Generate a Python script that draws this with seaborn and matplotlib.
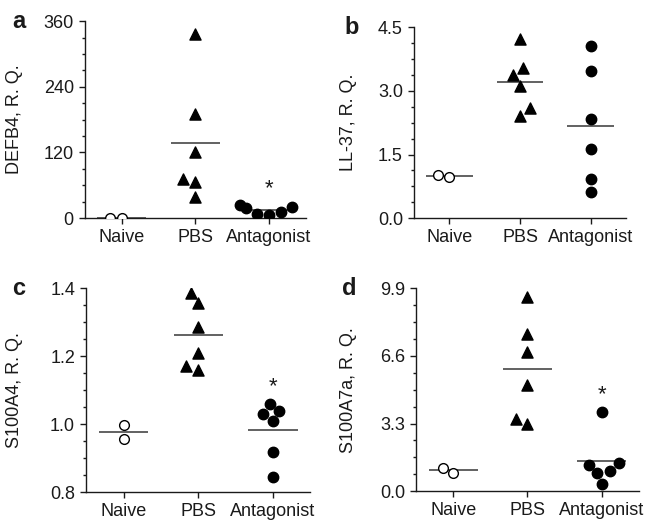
import numpy as np
import pandas as pd
import matplotlib
matplotlib.use('Agg')
import matplotlib.pyplot as plt
import seaborn as sns
from matplotlib.ticker import MultipleLocator, AutoMinorLocator, FormatStrFormatter

groups = ['Naive', 'PBS', 'Antagonist']

# relative quantities
naive_defb4 = [0.8, 1.2]
pbs_defb4 = [337, 191, 120, 71, 66, 39]
ant_defb4 = [12, 20, 8, 6, 24, 18]

naive_ll37 = [0.98, 1.03]
pbs_ll37 = [4.22, 3.55, 3.37, 3.12, 2.60, 2.42]
ant_ll37 = [4.07, 3.48, 2.33, 1.63, 0.93, 0.61]

naive_s100a4 = [0.958, 0.999]
pbs_s100a4 = [1.387, 1.356, 1.287, 1.209, 1.161, 1.171]
ant_s100a4 = [1.039, 1.061, 1.029, 1.009, 0.918, 0.845]

naive_s100a7a = [0.90, 1.14]
pbs_s100a7a = [9.45, 7.69, 6.79, 5.16, 3.26, 3.53]
ant_s100a7a = [3.88, 1.35, 1.30, 0.98, 0.90, 0.36]

panel_letters = ['a', 'b', 'c', 'd']
ylabels = ['DEFB4, R. Q.', 'LL-37, R. Q.', 'S100A4, R. Q.', 'S100A7a, R. Q.']
y_max = [360, 4.5, 1.4, 9.9]
y_min = [0, 0.0, 0.8, 0.0]
y_step = [120, 1.5, 0.2, 3.3]
y_fmt = ['%d', '%.1f', '%.1f', '%.1f']
significant = [True, False, True, True]

series = [
    (naive_defb4, pbs_defb4, ant_defb4),
    (naive_ll37, pbs_ll37, ant_ll37),
    (naive_s100a4, pbs_s100a4, ant_s100a4),
    (naive_s100a7a, pbs_s100a7a, ant_s100a7a),
]

sns.set_style('ticks')
plt.rcParams['font.family'] = ['Liberation Sans', 'DejaVu Sans']
plt.rcParams['font.size'] = 13
plt.rcParams['text.color'] = '#1a1a1a'
plt.rcParams['axes.labelcolor'] = '#1a1a1a'
plt.rcParams['xtick.color'] = '#1a1a1a'
plt.rcParams['ytick.color'] = '#1a1a1a'

fig = plt.figure(figsize=(6.48, 5.27), dpi=100)

# axes boxes in figure fraction (left, bottom, width, height)
boxes = [
    [0.131, 0.586, 0.341, 0.374],
    [0.639, 0.586, 0.327, 0.362],
    [0.133, 0.066, 0.346, 0.387],
    [0.642, 0.068, 0.344, 0.385],
]
label_x = [-0.281, -0.269, -0.281, -0.265]

markers = ['o', '^', 'o']
faces = ['white', 'black', 'black']
sizes = [7.0, 8.0, 7.5]

for k in range(4):
    ax = fig.add_axes(boxes[k])
    naive, pbs, ant = series[k]
    df = pd.DataFrame({
        'group': ['Naive'] * len(naive) + ['PBS'] * len(pbs) + ['Antagonist'] * len(ant),
        'value': list(naive) + list(pbs) + list(ant),
    })

    for i, g in enumerate(groups):
        sub = df[df['group'] == g]
        sns.swarmplot(data=sub, x='group', y='value', order=groups, ax=ax,
                      marker=markers[i], color=faces[i], edgecolor='black',
                      linewidth=1.0, size=sizes[i], zorder=3)
        m = sub['value'].mean()
        ax.hlines(m, i - 0.33, i + 0.33, color='#555555', lw=1.3, zorder=2)

    if significant[k]:
        top = max(ant)
        ax.annotate('*', xy=(2, top), xytext=(0, 8), textcoords='offset points',
                    ha='center', va='baseline', fontsize=16)

    ax.set_xlim(-0.5, 2.5)
    ax.set_ylim(y_min[k], y_max[k])
    ax.yaxis.set_major_locator(MultipleLocator(y_step[k]))
    ax.yaxis.set_minor_locator(AutoMinorLocator(4))
    ax.yaxis.set_major_formatter(FormatStrFormatter(y_fmt[k]))
    ax.set_xlabel('')
    ax.set_ylabel(ylabels[k], fontsize=13)
    ax.yaxis.set_label_coords(label_x[k], 0.5)
    ax.tick_params(axis='both', which='major', length=4.5, width=1.0, pad=3.5, labelsize=13)
    ax.tick_params(axis='y', which='minor', length=2.5, width=1.0)
    ax.tick_params(axis='x', which='minor', bottom=False)
    for s in ['top', 'right']:
        ax.spines[s].set_visible(False)
    for s in ['left', 'bottom']:
        ax.spines[s].set_linewidth(1.0)
        ax.spines[s].set_color('#1a1a1a')

    ax.text(-0.33, 1.0, panel_letters[k], transform=ax.transAxes,
            fontsize=17, fontweight='bold', ha='left', va='center')

fig.savefig('out.png', dpi=100)
